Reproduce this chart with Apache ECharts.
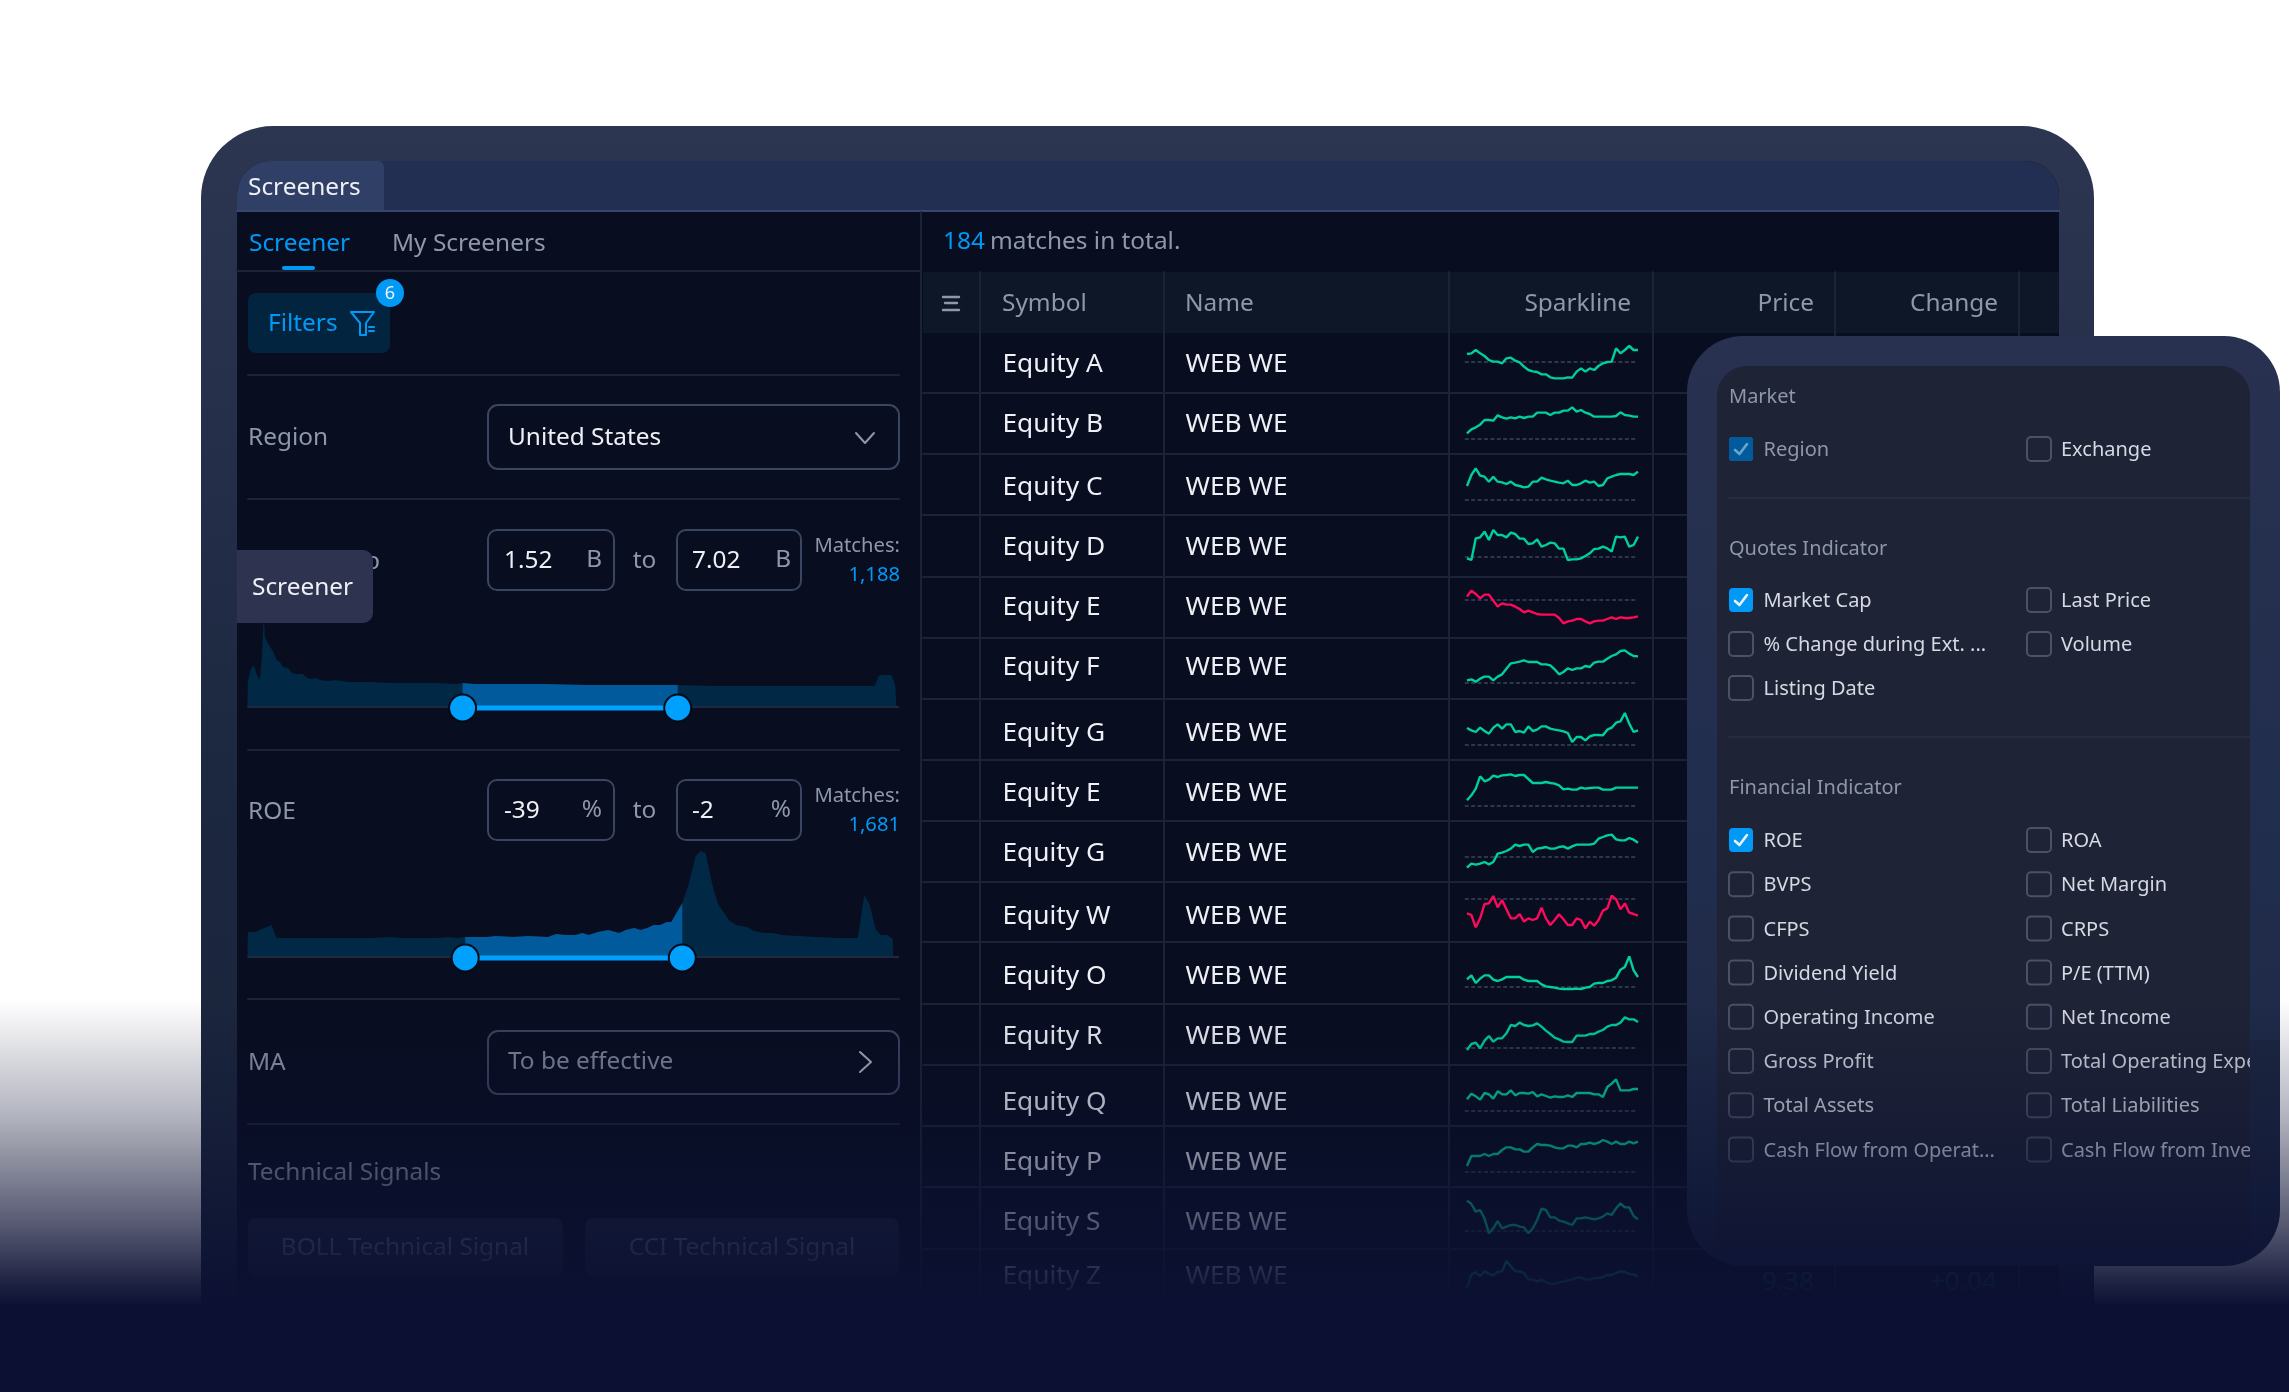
<!DOCTYPE html>
<html><head><meta charset="utf-8">
<style>html,body{margin:0;padding:0;background:#fff}#c{width:2289px;height:1392px}</style>
<script src="https://cdn.jsdelivr.net/npm/echarts@6/dist/echarts.min.js"></script>
</head><body><div id="c"></div>
<script>
// ---------- DATA ----------
const symbols = ['Equity A','Equity B','Equity C','Equity D','Equity E','Equity F','Equity G','Equity E','Equity G','Equity W','Equity O','Equity R','Equity Q','Equity P','Equity S','Equity Z'];
const names = ['WEB WE','WEB WE','WEB WE','WEB WE','WEB WE','WEB WE','WEB WE','WEB WE','WEB WE','WEB WE','WEB WE','WEB WE','WEB WE','WEB WE','WEB WE','WEB WE'];
const trend = ['up','up','up','up','down','up','up','up','up','down','up','up','up','up','up','up'];
const sparkA = [24,26,36,26,18,6,1,1,-4,11,13,4,-1,-14,-24,-28,-30,-37,-37,-46,-49,-49,-49,-46,-47,-29,-19,-29,-19,-24,-12,-4,0,1,41,26,36,48,36,36];
const sparkB = [17,29,35,43,57,57,55,71,65,61,65,62,67,63,67,67,79,79,79,72,79,79,85,85,95,82,87,79,75,67,67,67,67,67,69,80,72,70,67,67];
const sparkC = [42,75,95,73,70,55,70,55,53,48,55,45,42,38,40,55,55,67,62,58,55,52,50,58,45,45,50,58,52,55,42,45,65,70,75,78,78,78,75,85];
const sparkD = [-4,-9,56,59,76,51,81,66,66,59,73,69,55,55,39,41,53,31,36,43,41,25,25,-9,-7,-7,-4,3,11,24,25,31,26,16,61,59,61,31,36,61];
const sparkE = [10,28,18,5,16,16,-2,-20,-10,-14,-14,-20,-27,-37,-32,-37,-42,-44,-44,-44,-44,-54,-70,-64,-62,-57,-57,-64,-70,-64,-62,-62,-57,-52,-57,-52,-54,-54,-52,-49];
const sparkF = [8,11,4,13,19,19,8,19,26,43,59,61,64,68,63,63,63,56,56,53,41,26,33,44,39,44,44,51,48,61,64,64,73,81,86,96,98,88,81,80];
const sparkG = [51,44,39,52,42,34,52,62,49,62,62,39,42,37,56,42,46,56,56,49,46,44,41,36,9,24,24,14,26,30,30,29,46,52,67,71,96,64,39,44];
const sparkE2 = [17,32,52,89,74,79,91,87,92,93,95,90,93,93,81,69,69,69,72,69,67,62,50,52,49,49,55,52,54,55,55,49,49,49,55,55,55,55,55,55];
const sparkG2 = [-32,-20,-23,-20,-15,-22,-15,10,13,18,25,37,33,37,37,15,25,27,30,25,25,30,32,25,32,37,37,37,37,40,55,60,65,67,53,50,50,57,52,43];
const sparkW = [-43,-48,-85,-58,-15,-13,9,-25,-3,-31,-58,-58,-45,-68,-58,-63,-58,-26,-58,-78,-63,-46,-61,-78,-78,-58,-63,-88,-68,-80,-63,-35,-28,10,-1,-31,-13,-41,-45,-50];
const sparkO = [23,35,12,25,35,35,22,18,23,30,30,30,30,22,18,18,18,8,2,0,-2,-5,-6,-6,-6,-5,-6,-2,0,10,12,12,18,20,28,52,60,92,50,30];
const sparkR = [-6,12,16,-1,22,36,19,29,29,44,69,66,76,69,66,68,74,64,52,42,31,26,19,18,18,37,37,37,42,42,49,54,64,69,69,76,92,86,86,78];
const sparkQ = [35,52,44,34,54,50,37,59,50,50,62,47,54,54,52,57,44,50,45,40,44,42,42,47,42,54,54,54,54,50,50,42,72,82,95,62,62,62,66,66];
const sparkP = [18,48,48,48,54,48,54,54,66,74,74,68,68,61,61,74,84,81,81,79,74,71,71,79,79,74,84,84,88,84,88,96,91,84,91,84,84,91,86,91];
const sparkS = [91,81,58,63,38,-7,8,30,8,13,18,18,13,11,-7,8,33,67,63,41,41,31,28,23,18,38,38,41,38,35,38,43,53,48,68,83,71,71,45,35];
const sparkZ = [15,55,62,50,65,58,52,63,65,95,80,65,65,60,40,40,34,40,32,28,27,32,34,38,40,46,46,40,40,45,45,48,54,54,60,65,63,57,55,50];
const sparks = [sparkA,sparkB,sparkC,sparkD,sparkE,sparkF,sparkG,sparkE2,sparkG2,sparkW,sparkO,sparkR,sparkQ,sparkP,sparkS,sparkZ];

const capBins = [0,0.05,0.53,1,1.4,1.9,2.2,2.5,2.7,3.1,3.9,4.5,5,5.5,6.2,6.9,7.5,8.5,9.2,9.9,10.5,11.2,11.5,12.5,13.5,15.5,18.9,22.2,25.5,28.9,32.2,33.1,34.9,38.9,45.5,52.2,58.9,66.2,72.2,78.9,85.5,92.2,96.5,97.1,97.5,99.1,99.7,99.8,99.85];
const capCounts = [0,26,38,42,33,27,49,90,70,64,56,47,45,40,39,34,33,33,29,28,29,27,28,26,27,25,25,24,24,24,23,24,23,23,23,22,22,22,21,21,21,21,21,31,32,32,21,19,0];
const capRange = [33.1,66.2];
const roeBins = [0,0.05,1.2,2.2,3.7,4.5,5.5,8.9,12.2,15.5,18.9,22.2,23.5,25.5,28.9,30.9,32.2,33.5,36.9,38.2,40.9,43.2,46.2,47.5,48.9,50.5,51.5,52.5,53.9,55.5,57.2,58.2,59.5,60.5,61.5,62.5,63.5,64.5,65.2,66.9,67.9,68.9,69.7,70.5,71.5,72.4,74.2,75.2,76.9,77.9,79.5,80.9,82.2,84.9,87.5,90.9,93.9,94.9,95.7,96.7,97.5,98.5,99.3,99.35];
const roeCounts = [0,25,25,28,32,19,19,19,19,19,19,20,19,19,19,20,19,20,20,21,20,21,20,23,22,22,24,22,25,27,24,27,29,27,29,32,32,35,35,54,73,100,106,104,73,53,36,32,30,26,24,24,22,21,20,19,19,62,53,27,22,22,18,0];
const roeRange = [33.5,66.9];

const filterMarket = [['Region',1],['Exchange',0]];
const filterQuotes = [['Market Cap',1],['Last Price',0],['% Change during Ext. ...',0],['Volume',0],['Listing Date',0]];
const filterFinancial = [['ROE',1],['ROA',0],['BVPS',0],['Net Margin',0],['CFPS',0],['CRPS',0],['Dividend Yield',0],['P/E (TTM)',0],['Operating Income',0],['Net Income',0],['Gross Profit',0],['Total Operating Expe',0],['Total Assets',0],['Total Liabilities',0],['Cash Flow from Operat...',0],['Cash Flow from Inves',0]];

// ---------- LAYOUT ----------
const F = '"Noto Sans", sans-serif';
const rowTextY = [363,423,486,546,606,666,732,792,852,915,975,1035,1101,1161,1221,1275];
const rowLineY = [393,454,515,577,638,699,760,821,882,942,1004,1065,1126,1187,1249];
const sparkBaseY = [362,439,500,557,600,683,745,806,857,899,987,1048,1111,1172,1231,1293];
const els = [];
let baseZ = 1;
function rect(x,y,w,h,fill,r,stroke,lw,z){els.push({type:'rect',z:z||baseZ,shape:{x,y,width:w,height:h,r:r||0},style:{fill:fill||'transparent',stroke:stroke||null,lineWidth:lw||0},silent:true});}
function txt(x,y,t,size,color,align,z){els.push({type:'text',z:z||baseZ,style:{x,y:y+1.5,text:t,fill:color,font:size+'px '+F,textAlign:align||'left',textVerticalAlign:'middle'},silent:true});}
function ln(pts,color,lw,z){els.push({type:'polyline',z:z||baseZ,shape:{points:pts},style:{stroke:color,lineWidth:lw||2,fill:null,lineCap:'round',lineJoin:'round'},silent:true});}
function grad(a,b,c){const s=c?[{offset:0,color:a},{offset:.5,color:b},{offset:1,color:c}]:[{offset:0,color:a},{offset:1,color:b}];return {type:'linear',x:0,y:0,x2:0,y2:1,colorStops:s};}

const cWhite='#eef0f5', cGrey='#8f97ab', cBlue='#0099f5', cSep='#1b2339', cBorder='#3a455f', cDark='#080d20';
const L=24.4, P=20, T=26.3;

// device
rect(201,126,1893,1300,grad('#2d3651','#1c2740','#1a2438'),[72,72,0,0]);
rect(237,161,1822,1240,cDark,[34,34,0,0]);
rect(237,161,1822,50,'#222f52',[34,34,0,0]);
rect(237,161,147,50,'#2f3f66',[34,6,0,0]);
ln([[237,211],[2059,211]],'#39466d',2);
txt(248,187,'Screeners',L,cWhite);

// left panel
ln([[921,212],[921,1392]],cSep,2);
txt(249,243,'Screener',L,cBlue);
txt(392,243,'My Screeners',L,cGrey);
ln([[237,271],[921,271]],cSep,2);
rect(282,266,33,4,cBlue,2);
rect(248,293,142,60,'#02243f',8);
txt(268,323,'Filters',L,cBlue);
ln([[351,312],[374,312],[366,323],[366,335],[360,335],[360,323],[351,312]],cBlue,2);
ln([[369,327],[374,327]],cBlue,2);ln([[369,331],[374,331]],cBlue,2);
els.push({type:'circle',z:1,shape:{cx:390,cy:293,r:14},style:{fill:cBlue},silent:true});
txt(390,292,'6',18,cWhite,'center');
[375,499,750,999,1124].forEach(y=>ln([[248,y],[899,y]],cSep,2));

txt(248,437,'Region',L,cGrey);
rect(488,405,411,64,'transparent',10,cBorder,2);
txt(508,437,'United States',L,cWhite);
ln([[856,433],[865,443],[874,433]],cGrey,2);

function rangeRow(y,label,a,b,unit,matches){
  txt(248,y+1,label,L,cGrey);
  rect(488,y-30,126,60,'transparent',9,cBorder,2);
  rect(677,y-30,124,60,'transparent',9,cBorder,2);
  txt(504,y,a,L,cWhite);
  txt(692,y,b,L,cWhite);
  txt(602,y-1,unit,L,cGrey,'right');
  txt(791,y-1,unit,L,cGrey,'right');
  txt(644.5,y,'to',L,cGrey,'center');
  txt(900,y-15,'Matches:',20.2,cGrey,'right');
  txt(900,y+14,matches,20.2,cBlue,'right');
}
rangeRow(560,'Market Cap','1.52','7.02','B','1,188');
rangeRow(810,'ROE','-39','-2','%','1,681');

txt(248,1062,'MA',L,cGrey);
rect(488,1031,411,63,'transparent',10,cBorder,2);
txt(508,1061,'To be effective',L,'#7f879b');
ln([[860,1052],[871,1062],[860,1072]],'#aab0c0',2);
txt(248,1172,'Technical Signals',L,'#8f97ab');
rect(248,1218,315,58,'#1a2138',8);
rect(585,1218,314,58,'#1a2138',8);
txt(405,1247,'BOLL Technical Signal',L,'#6a7288','center');
txt(742,1247,'CCI Technical Signal',L,'#6a7288','center');

// table
txt(943,241,'184',L,cBlue);
txt(990,241,'matches in total.',L,cGrey);
rect(923,272,1136,61,'#0e1728');
[980,1164,1449,1653,1835,2019].forEach(x=>ln([[x,272],[x,1300]],cSep,2));
ln([[943,297],[959,297]],cGrey,2.4);ln([[945,303],[957,303]],cGrey,2.4);ln([[943,310],[959,310]],cGrey,2.4);
txt(1002,303,'Symbol',L,cGrey);
txt(1185,303,'Name',L,cGrey);
txt(1631,303,'Sparkline',L,cGrey,'right');
txt(1814,303,'Price',L,cGrey,'right');
txt(1998,303,'Change',L,cGrey,'right');
rowLineY.forEach(y=>ln([[923,y],[2059,y]],cSep,2));
symbols.forEach((s,i)=>{txt(1002.5,rowTextY[i],s,T,cWhite);txt(1185.5,rowTextY[i],names[i],T,cWhite);});
txt(1814,1281,'9.38',T,'#0b6a63','right');
txt(1997,1281,'+0.04',T,'#0b6a63','right');

// popup
rect(1687,336,593,930,grad('#28314f','#222e4e','#1b2741'),[56,56,56,56]);
rect(1717,366,533,880,'#1e2336',[30,30,0,0]);
function filterGrid(list,y0,step){
  list.forEach((f,i)=>{
    const col=i%2,row=Math.floor(i/2),y=y0+row*step,bx=col?2027:1729,tx=col?2061:1763.5;
    if(f[1]){rect(bx,y-12,24,24,cBlue,4);ln([[bx+6,y+1],[bx+10.5,y+5],[bx+18,y-5]],cWhite,2.6);}
    else rect(bx,y-12,24,24,'transparent',4,'#4b5266',2);
    txt(tx,y,f[0],P,'#d6d9e2');
  });
}
txt(1729,396,'Market',P,cGrey);
filterGrid(filterMarket,449,44);
rect(1729,437,24,24,'#005a9c',4);ln([[1735,450],[1739.5,454],[1747,444]],'#6aa6cc',2.6);
rect(1760,435,100,28,'#1e2336');txt(1763.5,449,'Region',P,'#8f97ab');
ln([[1729,498],[2250,498]],'#262c42',2);
txt(1729,548,'Quotes Indicator',P,cGrey);
filterGrid(filterQuotes,600,44);
ln([[1729,737],[2250,737]],'#262c42',2);
txt(1729,787,'Financial Indicator',P,cGrey);
filterGrid(filterFinancial,840,44.2);
rect(2250,1040,30,140,'#1c2740');

// tooltip + fade overlay sit above the series
rect(237,550,136,73,'#2e3450',[0,10,10,0],null,0,20);
txt(252,587,'Screener',L,cWhite,'left',21);
rect(0,1000,2289,392,'#000',0,null,0,30);
els[els.length-1].style.fill={type:'linear',x:0,y:0,x2:0,y2:1,colorStops:[{offset:0,color:'rgba(12,17,51,0)'},{offset:.3,color:'rgba(12,17,51,.32)'},{offset:.56,color:'rgba(12,17,51,.68)'},{offset:.72,color:'rgba(12,17,51,.92)'},{offset:.78,color:'rgba(12,17,51,1)'},{offset:1,color:'rgba(12,17,51,1)'}]};

// ---------- SERIES ----------
const grid=[],xAxis=[],yAxis=[],series=[];
function addAxes(g,xa,ya){const i=grid.length;grid.push(Object.assign({show:false},g));
  xAxis.push(Object.assign({gridIndex:i,type:'value',show:false},xa));
  yAxis.push(Object.assign({gridIndex:i,type:'value',show:false},ya));return i;}

sparks.forEach((vals,r)=>{
  const i=addAxes({left:1462.6,width:175.4,top:sparkBaseY[r]-60,height:90},{min:-1,max:39},{min:-90,max:180});
  series.push({type:'line',z:5,xAxisIndex:i,yAxisIndex:i,silent:true,symbol:'none',animation:false,
    data:[[-0.5,0],[38.6,0]],lineStyle:{color:'#3a4460',width:1.6,type:[4,2.4]}});
  series.push({type:'line',z:6,xAxisIndex:i,yAxisIndex:i,silent:true,symbol:'none',animation:false,clip:false,
    data:vals.map((v,k)=>[k,v]),lineStyle:{color:trend[r]==='up'?'#00d09c':'#ff0a5a',width:2.4}});
});

function hist(bins,counts,range,base){
  const i=addAxes({left:247.4,width:650,top:base-130,height:130},{min:-0.01,max:100},{min:-3,max:127});
  const pts=bins.map((b,k)=>[b,counts[k]]);
  const sel=pts.filter(p=>p[0]>=range[0]&&p[0]<=range[1]);
  const common={type:'line',xAxisIndex:i,yAxisIndex:i,silent:true,symbol:'none',animation:false,clip:false};
  series.push(Object.assign({},common,{z:5,data:pts,lineStyle:{width:0},areaStyle:{color:'#012845',opacity:1,origin:0}}));
  series.push(Object.assign({},common,{z:6,data:sel,lineStyle:{width:0},areaStyle:{color:'#015a9b',opacity:1,origin:0}}));
  series.push(Object.assign({},common,{z:6,data:[[0,0],[100.4,0]],lineStyle:{color:'#1f2a40',width:2}}));
  series.push(Object.assign({},common,{z:7,data:[[range[0],-1],[range[1],-1]],symbol:'circle',symbolSize:27,showSymbol:true,
    lineStyle:{color:'#00a0ff',width:5},itemStyle:{color:'#00a0ff',borderColor:'#050a18',borderWidth:2}}));
}
hist(capBins,capCounts,capRange,710);
hist(roeBins,roeCounts,roeRange,960);

const chart=echarts.init(document.getElementById('c'),null,{width:2289,height:1392,renderer:'canvas'});
chart.setOption({animation:false,backgroundColor:'#ffffff',grid,xAxis,yAxis,series,graphic:{elements:els}});
</script></body></html>
